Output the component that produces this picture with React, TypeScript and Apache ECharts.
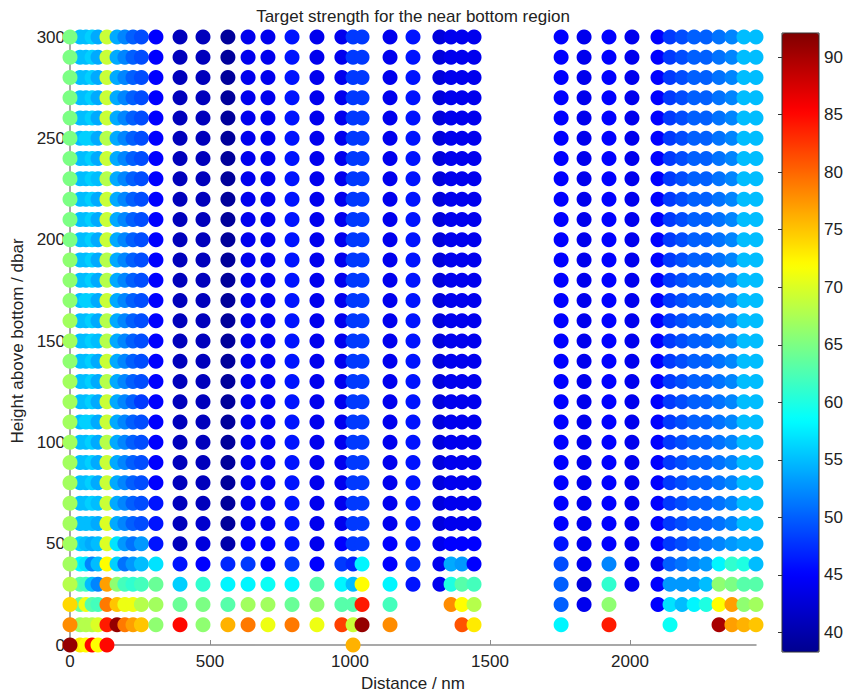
import React, { useEffect, useRef } from "react";
import * as echarts from "echarts";

const N = null;

// Height above bottom (rows), bottom to top
const rowHeights = [0, 10, 20, 30, 40, 50, 60, 70, 80, 90, 100, 110, 120, 130, 140, 150, 160, 170, 180, 190, 200, 210, 220, 230, 240, 250, 260, 270, 280, 290, 300];

// Distance of each profile (column)
const columnDistances = [0, 36, 57, 79, 100, 132, 168, 196, 225, 255, 307, 393, 475, 564, 636, 707, 793, 882, 971, 1011, 1043, 1143, 1225, 1321, 1361, 1400, 1443, 1754, 1836, 1925, 2007, 2100, 2143, 2186, 2229, 2272, 2318, 2364, 2407, 2450];

// Target strength per column, rows 0..300 (null = no sample)
const col00 = [91, 78, 74, 68, 67, 67, 67, 67, 67, 67, 67, 67, 67, 67, 66, 67, 67, 66, 66, 66, 65, 65, 65, 65, 65, 65, 65, 65, 65, 65, 65];
const col01 = [73, 67, 64, 63, 58, 56, 55, 55, 55, 55, 55, 55, 55, 55, 55, 55, 55, 55, 55, 55, 55, 55, 55, 55, 55, 55, 55, 55, 55, 55, 55];
const col02 = [72, 68, 71, 62, 57, 55, 55, 55, 55, 55, 55, 56, 55, 55, 55, 55, 55, 56, 55, 55, 55, 55, 55, 55, 55, 56, 55, 55, 55, 55, 55];
const col03 = [85, 68, 63, 55, 52, 54, 55, 56, 56, 56, 56, 56, 56, 56, 56, 56, 56, 56, 56, 56, 56, 56, 56, 56, 56, 56, 56, 56, 56, 56, 56];
const col04 = [72, 70, 62, 52, 55, 55, 54, 55, 54, 54, 54, 54, 54, 54, 54, 55, 54, 54, 54, 54, 54, 54, 54, 55, 54, 54, 54, 54, 54, 54, 54];
const col05 = [85, 84, 79, 77, 72, 70, 70, 69, 69, 69, 68, 69, 69, 68, 69, 68, 68, 69, 68, 68, 69, 69, 69, 68, 69, 68, 69, 69, 69, 69, 69];
const col06 = [N, 91, 75, 66, 56, 57, 54, 54, 54, 54, 54, 54, 54, 54, 54, 54, 54, 54, 54, 54, 54, 54, 54, 54, 54, 54, 54, 54, 54, 54, 54];
const col07 = [N, 79, 71, 62, 51, 53, 52, 52, 52, 52, 52, 52, 52, 52, 52, 52, 52, 52, 52, 52, 52, 52, 52, 52, 52, 52, 52, 52, 52, 52, 52];
const col08 = [N, 77, 71, 61, 53, 51, 50, 50, 50, 50, 50, 50, 50, 50, 50, 50, 50, 50, 50, 50, 50, 50, 50, 50, 50, 50, 50, 50, 50, 50, 50];
const col09 = [N, 75, 68, 62, 55, 53, 49, 49, 49, 49, 49, 49, 48, 49, 49, 49, 49, 49, 49, 49, 49, 49, 49, 49, 49, 49, 49, 49, 49, 49, 49];
const col10 = [N, 66, 67, 64, 57, 46, 46, 46, 45, 45, 45, 45, 45, 45, 45, 45, 45, 45, 45, 45, 45, 45, 45, 45, 45, 45, 45, 45, 45, 45, 45];
const col11 = [N, 85, 64, 56, 46, 41, 41, 41, 41, 41, 41, 41, 41, 41, 41, 41, 41, 41, 41, 41, 41, 41, 41, 41, 41, 41, 41, 41, 41, 41, 41];
const col12 = [N, 66, 65, 61, 45, 43, 42, 41, 41, 41, 41, 41, 41, 41, 41, 41, 41, 41, 41, 41, 41, 41, 41, 41, 41, 41, 41, 41, 41, 41, 41];
const col13 = [N, 76, 63, 58, 47, 40, 39, 39, 39, 39, 39, 39, 39, 39, 39, 39, 39, 39, 39, 39, 39, 39, 39, 39, 39, 39, 39, 39, 39, 39, 39];
const col14 = [N, 79, 67, 58, 48, 45, 44, 44, 44, 44, 44, 44, 44, 44, 44, 44, 44, 44, 44, 44, 44, 44, 44, 44, 44, 44, 44, 44, 44, 44, 44];
const col15 = [N, 71, 67, 59, 45, 45, 44, 44, 44, 44, 44, 44, 44, 44, 44, 44, 44, 44, 44, 44, 44, 44, 44, 44, 44, 44, 44, 44, 44, 44, 44];
const col16 = [N, 79, 64, 58, 48, 46, 46, 46, 46, 46, 46, 46, 46, 46, 46, 46, 46, 46, 46, 46, 46, 46, 46, 46, 46, 46, 46, 46, 46, 46, 46];
const col17 = [N, 71, 66, 63, 45, 44, 44, 44, 44, 44, 44, 44, 44, 44, 44, 44, 44, 44, 44, 44, 44, 44, 44, 44, 44, 44, 44, 44, 44, 44, 44];
const col18 = [N, 82, 63, 58, 48, 45, 44, 44, 44, 44, 44, 44, 44, 44, 44, 44, 44, 44, 44, 44, 44, 44, 44, 44, 44, 44, 44, 44, 44, 44, 44];
const col19 = [76, 69, 63, 55, 47, 48, 48, 48, 48, 48, 48, 48, 48, 48, 48, 48, 48, 48, 48, 48, 48, 48, 48, 48, 48, 48, 48, 48, 48, 48, 48];
const col20 = [N, 91, 84, 72, 58, 48, 48, 48, 48, 48, 48, 48, 48, 48, 48, 48, 48, 48, 48, 48, 48, 48, 48, 48, 48, 48, 48, 48, 48, 48, 48];
const col21 = [N, 78, 62, 58, 45, 45, 44, 44, 44, 44, 44, 44, 44, 44, 44, 44, 44, 44, 44, 44, 44, 44, 44, 44, 44, 44, 44, 44, 44, 44, 44];
const col22 = [N, N, N, 46, 47, 46, 46, 46, 46, 46, 46, 46, 46, 46, 46, 46, 46, 46, 46, 46, 46, 46, 46, 46, 46, 46, 46, 46, 46, 46, 46];
const col23 = [N, N, N, 44, 44, 44, 43, 43, 43, 43, 43, 43, 43, 43, 43, 43, 43, 43, 43, 43, 43, 43, 43, 43, 43, 43, 43, 43, 43, 43, 43];
const col24 = [N, N, 78, 60, 54, 45, 44, 44, 44, 44, 44, 44, 44, 44, 44, 44, 44, 44, 44, 44, 44, 44, 44, 44, 44, 44, 44, 44, 44, 44, 44];
const col25 = [N, 81, 72, 63, 53, 45, 44, 44, 44, 44, 44, 44, 44, 44, 44, 44, 44, 44, 44, 44, 44, 44, 44, 44, 44, 44, 44, 44, 44, 44, 44];
const col26 = [N, 73, 68, 62, 45, 45, 44, 44, 44, 44, 44, 44, 44, 44, 44, 44, 44, 44, 44, 44, 44, 44, 44, 44, 44, 44, 44, 44, 44, 44, 44];
const col27 = [N, 58, 50, 50, 49, 46, 45, 45, 45, 45, 45, 45, 45, 45, 45, 45, 45, 45, 45, 45, 45, 45, 45, 45, 45, 45, 45, 45, 45, 45, 45];
const col28 = [N, N, 44, 43, 44, 44, 44, 44, 44, 44, 44, 44, 44, 44, 44, 44, 44, 44, 44, 44, 44, 44, 44, 44, 44, 44, 44, 44, 44, 44, 44];
const col29 = [N, 84, 66, 61, 52, 45, 45, 45, 45, 45, 45, 45, 45, 45, 45, 45, 45, 45, 45, 45, 45, 45, 45, 45, 45, 45, 45, 45, 45, 45, 45];
const col30 = [N, N, N, 44, 44, 44, 44, 44, 44, 44, 44, 44, 44, 44, 44, 44, 44, 44, 44, 44, 44, 44, 44, 44, 44, 44, 44, 44, 44, 44, 44];
const col31 = [N, N, 45, 45, 44, 45, 45, 45, 45, 45, 45, 45, 45, 45, 45, 45, 45, 45, 45, 45, 45, 45, 45, 45, 45, 45, 45, 45, 45, 45, 45];
const col32 = [N, 59, 57, 53, 50, 48, 48, 48, 48, 48, 48, 48, 48, 48, 48, 48, 48, 48, 48, 48, 48, 48, 48, 48, 48, 48, 48, 48, 48, 48, 48];
const col33 = [N, N, 55, 53, 51, 49, 49, 49, 49, 49, 49, 49, 49, 49, 49, 49, 49, 49, 49, 49, 49, 49, 49, 49, 49, 49, 49, 49, 49, 49, 49];
const col34 = [N, N, 58, 53, 52, 50, 50, 50, 50, 50, 50, 50, 50, 50, 50, 50, 50, 50, 50, 50, 50, 50, 50, 50, 50, 50, 50, 50, 50, 50, 50];
const col35 = [N, N, 60, 55, 53, 51, 50, 50, 50, 50, 50, 50, 50, 50, 50, 50, 50, 50, 50, 50, 50, 50, 50, 50, 50, 50, 50, 50, 50, 50, 50];
const col36 = [N, 90, 72, 66, 58, 52, 51, 51, 51, 51, 51, 51, 51, 51, 51, 51, 51, 51, 51, 51, 51, 51, 51, 51, 51, 51, 51, 51, 51, 51, 51];
const col37 = [N, 77, 77, 65, 61, 53, 52, 52, 52, 52, 52, 52, 52, 52, 52, 52, 52, 52, 52, 52, 52, 52, 52, 52, 52, 52, 52, 52, 52, 52, 52];
const col38 = [N, 76, 66, 63, 60, 54, 55, 55, 55, 55, 55, 55, 55, 55, 55, 55, 55, 55, 55, 55, 55, 55, 55, 55, 55, 55, 55, 55, 55, 55, 55];
const col39 = [N, 75, 67, 63, 55, 54, 55, 55, 55, 55, 55, 55, 55, 55, 55, 55, 55, 55, 55, 55, 55, 55, 55, 55, 55, 55, 55, 55, 55, 55, 55];

const columnValues = [col00, col01, col02, col03, col04, col05, col06, col07, col08, col09, col10, col11, col12, col13, col14, col15, col16, col17, col18, col19, col20, col21, col22, col23, col24, col25, col26, col27, col28, col29, col30, col31, col32, col33, col34, col35, col36, col37, col38, col39];

const xTickValues = [0, 500, 1000, 1500, 2000];
const colorbarTicks = [40, 45, 50, 55, 60, 65, 70, 75, 80, 85, 90];
const colorMin = 38.3;
const colorMax = 92.1;
const jetColors = ["#00008F", "#0000FF", "#0080FF", "#00FFFF", "#80FF80", "#FFFF00", "#FF8000", "#FF0000", "#800000"];

const FONT = "'Liberation Sans', Arial, Helvetica, sans-serif";

// drawing order: the x = 0 profile is drawn last so it sits on top
const drawOrder = [1, 2, 3, 4, 5, 6, 7, 8, 9, 10, 11, 12, 13, 14, 15, 16, 17, 18, 19, 20, 21, 22, 23, 24, 25, 26, 27, 28, 29, 30, 31, 32, 33, 34, 35, 36, 37, 38, 39, 0];

function buildData() {
  const out: number[][] = [];
  drawOrder.forEach((ci) => {
    const x = columnDistances[ci];
    columnValues[ci].forEach((v, ri) => {
      if (v !== null) out.push([x, rowHeights[ri], v as number]);
    });
  });
  return out;
}

export default function App() {
  const ref = useRef<HTMLDivElement>(null);
  useEffect(() => {
    const chart = echarts.init(ref.current!, null, { renderer: "svg" });
    const axisGrey = "#8c8c8c";
    const textColor = "#222";
    const plain = (v: number) => String(v);
    chart.setOption({
      animation: false,
      backgroundColor: "#ffffff",
      textStyle: { fontFamily: FONT },
      grid: [
        { left: 70, top: 37, width: 686, height: 612 },
        { left: 782, top: 33, width: 37, height: 619 },
      ],
      xAxis: [
        {
          gridIndex: 0,
          type: "value",
          min: 0,
          max: 2450,
          name: "Distance / nm",
          nameLocation: "middle",
          nameGap: 30,
          nameTextStyle: { fontSize: 17, color: textColor, fontFamily: FONT },
          axisLine: { show: true, lineStyle: { color: axisGrey, width: 1.5 } },
          axisTick: { show: true, inside: true, length: 5, customValues: xTickValues, lineStyle: { color: axisGrey } },
          axisLabel: { customValues: xTickValues, formatter: plain, fontSize: 17, color: textColor, margin: 8, fontFamily: FONT },
          splitLine: { show: false },
        },
        { gridIndex: 1, type: "value", min: 0, max: 1, show: false },
      ],
      yAxis: [
        {
          gridIndex: 0,
          type: "value",
          min: 0,
          max: 300,
          interval: 50,
          name: "Height above bottom / dbar",
          nameLocation: "middle",
          nameGap: 34,
          nameTextStyle: { fontSize: 17, color: textColor, fontFamily: FONT },
          axisLine: { show: true, lineStyle: { color: axisGrey, width: 1.5 } },
          axisTick: { show: true, inside: true, length: 5, lineStyle: { color: axisGrey } },
          axisLabel: { formatter: plain, fontSize: 17, color: textColor, margin: 5, fontFamily: FONT },
          splitLine: { show: false },
        },
        {
          gridIndex: 1,
          type: "value",
          position: "right",
          min: colorMin,
          max: colorMax,
          axisLine: { show: false },
          axisTick: { show: true, inside: true, length: 4, customValues: colorbarTicks, lineStyle: { color: "#333" } },
          axisLabel: { customValues: colorbarTicks, formatter: plain, fontSize: 17, color: textColor, margin: 5, fontFamily: FONT },
          splitLine: { show: false },
        },
        {
          gridIndex: 1,
          type: "value",
          position: "left",
          min: colorMin,
          max: colorMax,
          axisLine: { show: false },
          axisTick: { show: true, inside: true, length: 4, customValues: colorbarTicks, lineStyle: { color: "#333" } },
          axisLabel: { show: false },
          splitLine: { show: false },
        },
      ],
      visualMap: {
        type: "continuous",
        min: colorMin,
        max: colorMax,
        dimension: 2,
        seriesIndex: 0,
        inRange: { color: jetColors },
        show: true,
        orient: "vertical",
        left: 782,
        top: 33,
        itemWidth: 37,
        itemHeight: 619,
        padding: 0,
        calculable: false,
        hoverLink: false,
        z: 1,
      },
      graphic: [
        {
          type: "text",
          x: 413,
          y: 16,
          style: {
            text: "Target strength for the near bottom region",
            align: "center",
            verticalAlign: "middle",
            fontSize: 17,
            fontFamily: FONT,
            fill: textColor,
          },
        },
        {
          type: "rect",
          shape: { x: 782, y: 33, width: 37, height: 619 },
          style: { fill: "none", stroke: "#333", lineWidth: 1 },
          z: 100,
        },
      ],
      series: [
        {
          type: "scatter",
          xAxisIndex: 0,
          yAxisIndex: 0,
          symbol: "circle",
          symbolSize: 15,
          clip: false,
          itemStyle: { opacity: 1 },
          data: buildData(),
        },
      ],
    });
    return () => chart.dispose();
  }, []);
  return (
    <div
      ref={ref}
      style={{ position: "fixed", left: 0, top: 0, width: 852, height: 697, background: "#fff" }}
    />
  );
}
